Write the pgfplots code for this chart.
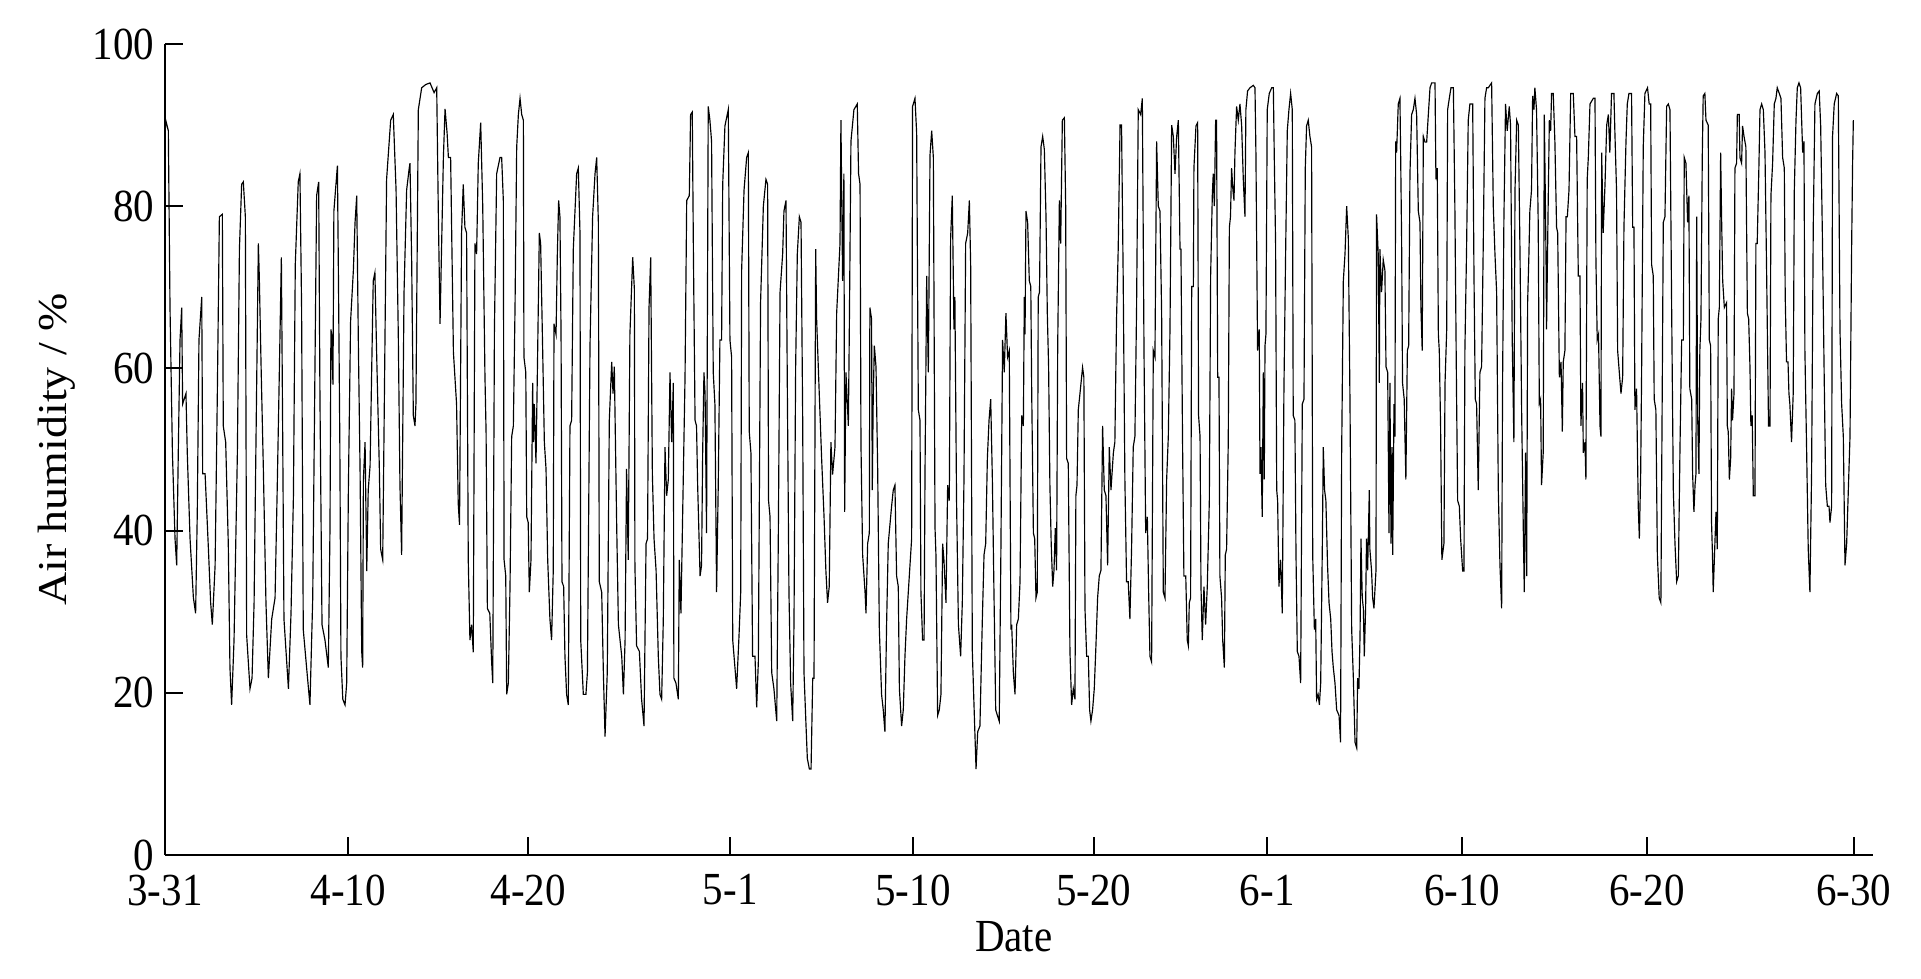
\documentclass[border=0pt]{standalone}
\usepackage{graphicx}
\usepackage{fontspec}
\setmainfont{Liberation Serif}
\usepackage{pgfplots}
\pgfplotsset{compat=1.18}

% hourly humidity, sampled at the daily turning points (x in days from 3-31)
\pgfplotstableread{
u v
0.00 88.5
0.04 90.6
0.18 89.3
0.27 67.5
0.40 49.6
0.54 39.0
0.63 35.7
0.72 50.3
0.81 63.5
0.90 67.5
0.95 55.6
1.13 56.9
1.20 49.6
1.35 39.0
1.53 31.7
1.65 29.8
1.74 42.3
1.83 63.5
1.98 68.8
2.03 47.0
2.16 47.0
2.34 37.7
2.46 31.1
2.55 28.4
2.70 35.7
2.82 56.9
2.93 78.7
3.09 79.0
3.14 52.9
3.27 50.9
3.41 38.4
3.50 23.1
3.59 18.5
3.72 26.5
3.90 49.6
4.01 74.7
4.13 82.7
4.22 83.0
4.33 78.7
4.40 27.1
4.58 20.5
4.69 21.8
4.80 31.1
4.94 58.2
5.03 75.4
5.08 71.4
5.18 60.0
5.30 47.6
5.44 31.1
5.57 21.8
5.75 29.1
5.93 31.7
6.05 45.6
6.14 56.9
6.27 73.7
6.34 52.2
6.41 29.1
6.65 20.5
6.79 29.8
6.92 44.3
7.02 72.8
7.18 83.0
7.27 84.0
7.36 67.5
7.45 27.8
7.63 23.1
7.81 18.5
7.96 31.7
8.05 52.9
8.17 81.3
8.28 83.0
8.35 56.2
8.46 28.4
8.62 26.5
8.80 23.1
8.89 40.3
8.94 64.8
8.98 64.2
9.05 58.0
9.10 79.4
9.29 85.0
9.35 70.0
9.42 50.9
9.48 24.5
9.58 19.2
9.70 18.5
9.79 21.2
9.88 45.0
10.00 65.8
10.15 72.1
10.24 78.0
10.33 81.3
10.42 62.8
10.51 47.6
10.60 25.1
10.65 23.1
10.69 46.3
10.78 50.9
10.87 35.0
10.95 45.0
11.05 48.0
11.14 60.2
11.22 70.8
11.31 71.8
11.40 62.2
11.55 47.6
11.62 37.7
11.73 36.4
11.82 56.2
11.94 83.3
12.16 90.6
12.30 91.3
12.45 82.0
12.57 64.2
12.66 45.6
12.75 37.0
12.88 69.4
13.02 82.0
13.16 84.7
13.20 85.3
13.29 73.4
13.38 54.2
13.47 52.9
13.52 55.6
13.65 91.9
13.83 94.6
14.05 95.0
14.28 95.2
14.50 94.0
14.64 94.6
14.73 78.7
14.82 65.5
15.00 86.0
15.09 92.0
15.20 89.0
15.27 86.0
15.39 86.0
15.54 62.0
15.71 55.6
15.80 43.3
15.87 40.7
15.98 76.7
16.07 82.7
16.16 77.4
16.25 76.7
16.34 36.4
16.43 26.5
16.52 28.4
16.61 25.0
16.70 75.4
16.79 74.1
16.88 85.3
17.01 90.3
17.12 80.0
17.24 59.0
17.30 52.2
17.37 30.4
17.50 29.8
17.60 23.8
17.66 21.2
17.75 64.8
17.87 84.0
18.05 86.0
18.14 86.0
18.23 80.7
18.27 36.4
18.36 34.4
18.41 19.8
18.50 21.2
18.59 33.1
18.68 51.6
18.77 52.9
18.86 67.5
18.95 87.3
19.04 91.3
19.13 93.3
19.22 91.3
19.31 90.6
19.34 61.4
19.44 59.5
19.49 41.7
19.57 41.0
19.63 32.4
19.72 36.4
19.81 58.2
19.85 50.9
19.90 55.6
19.99 48.3
20.06 58.9
20.17 76.7
20.24 75.4
20.35 62.2
20.44 50.9
20.53 47.6
20.62 36.4
20.74 29.1
20.83 26.5
20.92 35.1
20.96 65.5
21.07 64.2
21.14 74.1
21.21 80.7
21.28 78.7
21.34 64.2
21.39 33.7
21.48 33.1
21.55 24.5
21.64 19.8
21.73 18.5
21.82 52.9
21.91 53.6
22.00 74.7
22.18 84.0
22.27 84.7
22.36 76.7
22.40 26.5
22.54 19.8
22.68 19.8
22.76 22.5
22.90 62.8
23.04 78.7
23.17 84.0
23.26 86.0
23.35 78.0
23.40 33.7
23.53 32.4
23.62 22.5
23.71 14.6
23.83 22.5
23.94 53.6
24.07 60.8
24.14 56.9
24.21 60.2
24.34 40.3
24.43 28.4
24.61 24.5
24.70 19.8
24.79 26.5
24.87 47.6
24.96 36.4
25.05 64.2
25.20 73.7
25.29 69.8
25.32 35.7
25.41 25.8
25.56 25.1
25.68 19.2
25.81 15.9
25.92 38.4
26.00 39.0
26.08 67.5
26.17 73.7
26.26 47.0
26.35 39.0
26.46 35.1
26.58 24.5
26.67 19.8
26.76 19.2
26.85 29.1
26.94 50.3
27.03 44.3
27.12 46.3
27.21 59.5
27.30 50.9
27.39 58.2
27.42 21.8
27.53 21.2
27.66 19.2
27.71 36.4
27.80 29.8
27.89 41.7
28.02 58.9
28.11 80.7
28.25 81.3
28.32 91.3
28.41 91.6
28.47 74.7
28.56 53.6
28.64 52.9
28.70 45.6
28.83 34.4
28.91 35.7
28.97 49.6
29.04 59.5
29.10 56.9
29.18 39.7
29.27 92.3
29.36 90.6
29.45 88.0
29.54 59.5
29.63 55.6
29.72 32.4
29.81 45.6
29.90 63.5
29.99 63.5
30.05 82.7
30.17 89.9
30.35 91.9
30.44 63.5
30.53 61.4
30.59 26.5
30.71 23.1
30.80 20.5
30.93 27.1
31.02 32.4
31.07 72.1
31.20 82.0
31.34 86.0
31.43 86.6
31.48 52.2
31.57 49.6
31.66 24.5
31.79 24.5
31.88 18.2
31.97 23.8
32.02 42.3
32.09 68.1
32.24 80.0
32.38 83.3
32.47 82.7
32.52 43.7
32.60 41.7
32.69 22.5
32.81 20.5
32.96 16.5
33.05 40.3
33.14 69.4
33.28 74.1
33.35 79.4
33.46 80.7
33.53 58.2
33.62 32.4
33.71 21.2
33.82 16.5
33.89 28.4
33.98 60.2
34.07 74.1
34.18 78.7
34.27 78.0
34.36 53.6
34.43 22.5
34.54 15.9
34.61 11.9
34.72 10.6
34.81 10.6
34.90 21.8
34.97 21.8
35.06 74.7
35.11 66.1
35.20 60.2
35.38 48.9
35.51 41.7
35.61 35.0
35.70 31.1
35.79 33.1
35.88 50.9
35.97 46.9
36.10 50.3
36.19 66.8
36.37 75.4
36.42 90.6
36.51 70.8
36.58 84.0
36.62 42.3
36.69 59.5
36.82 52.9
36.87 64.2
36.96 88.0
37.12 91.9
37.30 92.6
37.37 84.0
37.45 82.7
37.50 50.6
37.59 37.0
37.72 32.4
37.77 29.8
37.86 38.4
37.95 39.7
37.98 67.5
38.07 66.1
38.11 45.0
38.16 56.2
38.22 62.8
38.31 60.2
38.40 47.6
38.49 27.8
38.61 19.8
38.70 17.9
38.79 15.2
38.88 28.4
38.97 38.4
39.15 43.0
39.24 45.0
39.33 45.6
39.42 34.4
39.51 33.1
39.57 20.5
39.69 15.9
39.78 17.9
39.87 24.5
39.96 29.1
40.14 35.7
40.23 39.0
40.28 92.3
40.41 93.3
40.50 89.0
40.59 54.9
40.68 53.6
40.73 32.4
40.82 26.5
40.90 26.5
40.95 47.0
41.04 71.4
41.13 59.5
41.22 86.3
41.31 89.3
41.40 86.0
41.49 40.3
41.54 37.0
41.63 17.2
41.72 17.9
41.81 19.8
41.90 38.4
41.97 36.4
42.08 31.1
42.17 45.6
42.26 43.7
42.33 76.0
42.42 81.3
42.51 64.8
42.56 68.8
42.65 43.7
42.75 28.4
42.87 24.5
42.96 31.1
43.05 46.3
43.14 75.4
43.25 76.7
43.34 80.7
43.41 72.8
43.50 25.1
43.59 18.5
43.70 10.6
43.79 15.2
43.91 15.9
44.04 29.1
44.13 37.0
44.22 38.4
44.31 48.9
44.40 53.6
44.49 56.2
44.58 46.3
44.67 31.7
44.76 17.9
44.85 17.2
44.95 16.5
45.04 37.7
45.13 63.5
45.22 59.5
45.31 66.8
45.40 61.4
45.49 62.2
45.58 27.8
45.62 28.4
45.71 22.5
45.80 19.8
45.89 28.4
45.98 29.1
46.07 33.7
46.16 54.2
46.25 52.9
46.30 68.8
46.34 64.2
46.39 79.4
46.48 78.0
46.57 70.8
46.65 70.1
46.70 56.9
46.79 39.7
46.86 39.0
46.93 31.7
47.00 32.4
47.05 68.8
47.12 69.4
47.20 87.3
47.29 88.6
47.38 87.0
47.47 78.7
47.54 66.8
47.61 60.2
47.68 45.6
47.75 38.4
47.83 33.1
47.90 35.1
47.97 40.3
48.04 35.1
48.10 62.8
48.19 80.7
48.26 75.4
48.35 90.6
48.46 90.9
48.53 80.0
48.58 48.9
48.67 48.3
48.76 25.1
48.85 18.5
48.94 20.5
49.03 19.2
49.08 44.3
49.14 45.6
49.21 54.9
49.30 56.9
49.44 60.1
49.51 58.9
49.57 30.4
49.66 24.5
49.75 24.5
49.82 17.9
49.89 16.5
49.98 17.9
50.07 20.5
50.16 25.8
50.25 31.7
50.34 34.4
50.43 35.1
50.52 52.9
50.61 45.0
50.70 44.3
50.79 35.7
50.88 50.3
50.97 45.0
51.10 49.6
51.18 50.9
51.27 66.1
51.36 74.7
51.46 90.0
51.54 90.0
51.63 70.8
51.72 46.3
51.81 33.7
51.90 33.7
51.99 29.1
52.08 37.7
52.17 50.3
52.26 51.6
52.35 67.5
52.44 91.9
52.57 91.3
52.66 93.3
52.75 62.2
52.84 39.7
52.93 41.7
53.00 32.4
53.07 24.5
53.16 23.8
53.25 62.2
53.34 61.4
53.43 88.0
53.52 80.0
53.61 79.4
53.70 66.8
53.79 32.4
53.88 31.7
53.97 46.3
54.06 51.6
54.15 64.8
54.24 90.0
54.33 88.6
54.42 84.0
54.51 88.6
54.60 90.6
54.69 74.7
54.74 74.7
54.83 50.3
54.90 34.4
55.00 34.4
55.08 26.5
55.14 25.8
55.19 31.1
55.26 31.7
55.32 70.1
55.41 70.1
55.44 84.7
55.55 89.9
55.64 90.3
55.69 54.2
55.77 51.6
55.82 33.1
55.89 26.5
55.98 33.1
56.07 28.4
56.16 33.1
56.27 43.7
56.34 71.4
56.43 81.3
56.48 84.0
56.54 80.0
56.61 90.6
56.66 90.6
56.72 58.9
56.79 58.9
56.84 34.4
56.93 31.7
56.99 26.5
57.08 23.1
57.13 37.0
57.20 37.7
57.29 50.9
57.35 77.4
57.41 78.7
57.47 84.7
57.54 82.0
57.60 80.7
57.65 86.6
57.74 92.3
57.83 90.6
57.92 92.6
58.01 90.0
58.10 83.3
58.19 78.7
58.24 91.9
58.33 94.2
58.46 94.6
58.64 94.9
58.73 94.6
58.78 86.6
58.87 62.2
58.96 64.8
59.00 47.0
59.05 50.3
59.12 41.7
59.18 59.5
59.23 46.3
59.27 62.8
59.32 64.2
59.39 91.9
59.50 93.9
59.63 94.6
59.72 94.6
59.77 86.0
59.84 75.4
59.90 45.0
59.95 43.7
60.02 33.1
60.11 36.4
60.20 29.8
60.29 57.5
60.38 74.1
60.47 89.3
60.56 91.9
60.65 93.9
60.74 91.9
60.79 54.2
60.88 53.6
60.94 37.0
61.01 25.1
61.10 24.5
61.19 21.2
61.28 55.6
61.37 56.2
61.44 84.7
61.51 89.9
61.60 90.6
61.69 88.6
61.78 87.3
61.84 37.0
61.93 27.8
62.00 29.1
62.05 19.2
62.13 19.8
62.20 18.5
62.27 21.2
62.36 38.4
62.41 50.3
62.48 45.0
62.55 43.7
62.64 35.7
62.72 31.1
62.81 29.1
62.88 25.1
62.95 23.1
63.04 21.2
63.13 17.9
63.26 17.2
63.34 13.9
63.40 49.6
63.49 70.8
63.58 74.1
63.67 80.0
63.76 76.0
63.85 55.6
63.94 27.8
64.03 21.8
64.12 13.9
64.21 13.2
64.26 21.8
64.33 20.5
64.39 27.1
64.44 39.0
64.51 31.7
64.57 30.4
64.62 24.5
64.69 30.4
64.74 39.0
64.80 35.1
64.89 45.0
64.92 37.7
65.01 35.1
65.07 31.7
65.14 30.4
65.25 35.1
65.28 79.0
65.37 74.1
65.43 58.2
65.46 74.7
65.55 69.4
65.64 73.4
65.73 72.1
65.79 60.2
65.88 59.5
65.95 39.7
66.00 58.2
66.06 38.4
66.11 50.3
66.15 37.0
66.22 55.6
66.27 51.6
66.31 88.0
66.36 86.6
66.45 92.6
66.54 93.3
66.58 86.0
66.63 76.0
66.68 58.2
66.77 56.2
66.81 51.6
66.86 46.3
66.94 62.2
67.01 62.8
67.08 84.0
67.17 91.3
67.26 91.9
67.35 93.3
67.44 91.3
67.53 79.4
67.62 78.0
67.67 67.5
67.74 62.2
67.80 88.6
67.89 87.9
67.98 87.9
68.07 91.3
68.16 94.6
68.25 95.2
68.43 95.2
68.48 83.3
68.55 84.7
68.61 64.2
68.66 62.2
68.73 52.9
68.80 36.4
68.91 38.4
68.97 58.2
69.06 64.8
69.11 91.9
69.20 93.3
69.29 94.6
69.42 94.6
69.50 80.0
69.59 56.9
69.65 43.7
69.74 43.0
69.81 39.0
69.92 35.0
69.99 35.0
70.04 62.2
70.13 74.7
70.22 90.6
70.31 92.6
70.40 92.6
70.46 92.6
70.53 71.4
70.60 56.2
70.67 55.6
70.76 45.0
70.85 59.5
70.94 60.2
71.03 75.4
71.12 93.3
71.21 94.6
71.30 94.6
71.48 95.2
71.57 80.0
71.66 74.1
71.75 69.4
71.84 45.0
71.93 35.7
72.02 30.4
72.07 58.2
72.14 78.0
72.23 92.6
72.32 89.3
72.43 92.3
72.50 90.0
72.59 63.5
72.68 50.9
72.74 82.0
72.83 90.6
72.92 90.0
73.01 74.1
73.10 54.2
73.19 39.7
73.24 32.4
73.31 49.6
73.37 34.4
73.42 68.1
73.49 74.1
73.54 79.4
73.63 82.0
73.69 93.6
73.76 91.9
73.81 94.6
73.90 91.9
73.99 78.0
74.05 55.6
74.12 56.2
74.17 45.6
74.26 49.6
74.32 91.3
74.41 74.1
74.44 64.8
74.53 80.7
74.59 90.6
74.66 89.3
74.71 93.9
74.80 93.9
74.89 87.9
74.98 77.4
75.04 76.7
75.13 58.9
75.22 60.8
75.29 52.2
75.34 60.8
75.43 62.2
75.49 78.7
75.56 78.7
75.65 82.0
75.74 93.9
75.88 93.9
75.97 88.6
76.06 88.6
76.15 71.4
76.24 71.4
76.29 52.9
76.38 58.2
76.42 49.6
76.51 50.9
76.56 46.3
76.63 83.3
76.69 86.0
76.78 92.6
76.96 93.3
77.05 93.3
77.10 73.4
77.17 63.5
77.24 64.2
77.32 52.9
77.37 51.6
77.41 86.6
77.49 76.7
77.59 82.7
77.68 90.0
77.77 91.3
77.85 86.6
77.94 93.9
78.07 93.9
78.12 89.3
78.21 82.0
78.27 62.2
78.36 59.5
78.45 56.9
78.54 58.9
78.61 77.4
78.72 88.0
78.79 92.6
78.88 93.9
79.02 93.9
79.08 77.4
79.15 77.4
79.20 54.9
79.29 57.5
79.38 43.0
79.44 39.0
79.51 46.9
79.56 58.9
79.65 87.3
79.74 93.9
79.88 94.6
79.97 92.6
80.05 92.6
80.10 72.8
80.19 71.4
80.24 56.2
80.33 54.9
80.41 37.0
80.51 31.7
80.60 31.1
80.67 56.2
80.73 78.0
80.82 78.7
80.91 92.3
81.00 92.6
81.09 91.9
81.18 67.5
81.27 45.0
81.36 38.4
81.45 33.7
81.54 34.4
81.63 50.3
81.72 63.5
81.81 63.5
81.86 86.0
81.95 85.3
82.04 78.0
82.11 81.3
82.16 57.5
82.26 56.2
82.31 47.0
82.38 42.3
82.44 45.6
82.49 47.0
82.53 78.7
82.58 54.2
82.65 47.0
82.70 62.2
82.76 66.1
82.83 86.0
82.88 93.6
82.97 93.9
83.03 90.6
83.15 90.0
83.21 63.5
83.28 62.8
83.33 41.0
83.38 37.0
83.42 32.4
83.51 38.4
83.57 42.3
83.64 37.7
83.69 66.1
83.75 67.5
83.82 86.6
83.87 78.7
83.93 70.8
84.02 67.5
84.14 68.1
84.18 52.9
84.23 52.2
84.29 46.3
84.36 48.9
84.41 57.5
84.46 53.6
84.54 56.9
84.59 84.7
84.68 85.3
84.72 91.3
84.82 91.3
84.86 86.0
84.95 85.3
85.00 89.9
85.08 88.6
85.18 87.3
85.26 66.8
85.33 66.1
85.40 60.2
85.45 52.9
85.52 54.2
85.58 44.3
85.67 44.3
85.72 75.4
85.79 75.4
85.88 84.7
85.94 91.9
86.03 92.6
86.12 91.9
86.21 86.6
86.30 71.4
86.35 62.2
86.40 52.9
86.48 52.9
86.53 81.3
86.62 85.3
86.71 92.6
86.80 93.3
86.87 94.6
86.98 93.9
87.07 93.3
87.16 86.0
87.25 84.7
87.30 68.8
87.37 60.8
87.45 60.8
87.50 56.9
87.55 55.6
87.64 50.9
87.73 56.9
87.79 82.0
87.88 90.6
87.95 94.6
88.04 95.2
88.13 94.6
88.24 86.6
88.31 88.0
88.36 62.2
88.45 50.3
88.54 37.7
88.63 32.4
88.72 47.0
88.81 77.4
88.90 92.6
89.03 93.9
89.13 94.2
89.21 89.9
89.30 76.7
89.40 58.9
89.48 45.6
89.57 43.0
89.66 43.0
89.71 41.0
89.80 43.0
89.85 88.6
89.94 92.6
90.07 93.9
90.16 93.6
90.25 64.8
90.34 55.6
90.43 51.6
90.52 35.7
90.61 38.4
90.70 45.0
90.79 51.6
90.88 75.4
90.93 85.3
90.97 90.6
}\humidity

\newcommand{\vs}[1]{\scalebox{1}[1.12]{#1}}

\begin{document}
\begin{tikzpicture}
\begin{axis}[
    scale only axis,
    width=512.4pt,
    height=243.3pt,
    xmin=0, xmax=92.03,
    ymin=0, ymax=100,
    axis x line*=bottom,
    axis y line*=left,
    axis line style={line width=0.6pt},
    tick align=inside,
    major tick length=5.3pt,
    every tick/.style={black, line width=0.6pt},
    xtick={0,9.876,19.57,30.46,40.30,50.04,59.39,69.88,79.85,90.99},
    xticklabels={\vs{3-31},\vs{4-10},\vs{4-20},\vs{5-1},\vs{5-10},\vs{5-20},\vs{6-1},\vs{6-10},\vs{6-20},\vs{6-30}},
    ytick={0,20,40,60,80,100},
    yticklabels={\vs{0},\vs{20},\vs{40},\vs{60},\vs{80},\vs{100}},
    tick label style={font=\fontsize{12.3}{14}\selectfont},
    xticklabel style={inner sep=0pt, anchor=north, yshift=-5.7pt},
    yticklabel style={inner sep=0pt, anchor=east, xshift=-3pt},
    label style={font=\fontsize{12.3}{14}\selectfont},
    xlabel={\vs{Date}},
    xlabel style={at={(axis description cs:0.497,-0.0814)}, anchor=north, inner sep=0pt},
    ylabel={\scalebox{1.12}[1]{Air humidity / \%}},
    ylabel style={at={(axis description cs:-0.075,0.5)}, anchor=north, rotate=0, inner sep=0pt},
]
\addplot[black, line width=0.35pt, mark=none] table[x=u, y=v] {\humidity};
\end{axis}
\path (-49.5pt,-37.2pt) rectangle (526.8pt,256.5pt);
\end{tikzpicture}
\end{document}
